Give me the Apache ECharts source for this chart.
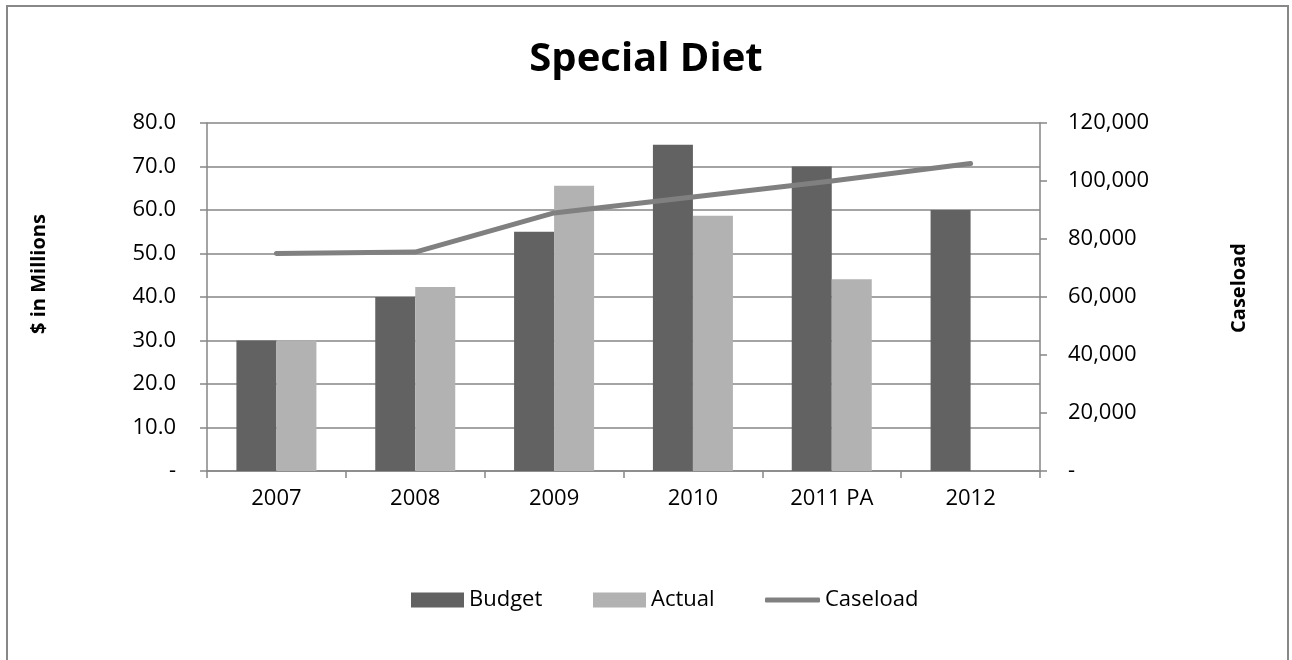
<!DOCTYPE html>
<html>
<head>
<meta charset="utf-8">
<script src="https://cdn.jsdelivr.net/npm/echarts@6/dist/echarts.min.js"></script>
<style>
html,body{margin:0;padding:0;background:#fff;}
#c{width:1292px;height:660px;}
</style>
</head>
<body>
<div id="c"></div>
<script>
const categories = ['2007', '2008', '2009', '2010', '2011 PA', '2012'];
const budget = [30, 40, 55, 75, 70, 60];
const actual = [30, 42.3, 65.6, 58.7, 44.1, null];
const caseload = [75000, 75500, 89000, 94500, 100000, 106000];
const leftTicks = {min: 0, max: 80, interval: 10};
const rightTicks = {min: 0, max: 120000, interval: 20000};

const FONT = '"Open Sans", "Noto Sans", sans-serif';
const chart = echarts.init(document.getElementById('c'), null, {renderer: 'canvas'});
const legendText = {fontFamily: FONT, fontSize: 22, color: '#000'};
chart.setOption({
  animation: false,
  backgroundColor: '#fff',
  textStyle: {fontFamily: FONT},
  title: {
    text: 'Special Diet', left: 'center', top: 35,
    textStyle: {fontFamily: FONT, fontSize: 40, fontWeight: 'bold', color: '#000'}
  },
  graphic: [{
    type: 'rect', shape: {x: 7, y: 6, width: 1281, height: 700},
    style: {fill: null, stroke: '#888', lineWidth: 2}, silent: true, z: -1
  }, {
    type: 'text', x: 39, y: 274, rotation: Math.PI / 2,
    style: {text: '$ in Millions', fontFamily: FONT, fontSize: 20, fontWeight: 'bold',
      fill: '#000', align: 'center', verticalAlign: 'middle'}
  }, {
    type: 'text', x: 1239, y: 288, rotation: Math.PI / 2,
    style: {text: 'Caseload', fontFamily: FONT, fontSize: 20, fontWeight: 'bold',
      fill: '#000', align: 'center', verticalAlign: 'middle'}
  }],
  legend: [{
    left: 406, top: 584, itemWidth: 53, itemHeight: 15, textStyle: legendText,
    data: [{name: 'Budget', icon: 'rect'}]
  }, {
    left: 588, top: 584, itemWidth: 53, itemHeight: 15, textStyle: legendText,
    data: [{name: 'Actual', icon: 'rect'}]
  }, {
    left: 760, top: 584, itemWidth: 55, itemHeight: 5, textStyle: legendText,
    data: [{name: 'Caseload', icon: 'roundRect'}]
  }],
  grid: {left: 207, right: 252, top: 123, bottom: 189},
  xAxis: {
    type: 'category', data: categories,
    axisLine: {lineStyle: {color: '#868686', width: 1.5}},
    axisTick: {show: true, length: 7, lineStyle: {color: '#868686', width: 1.5}},
    axisLabel: {fontFamily: FONT, fontSize: 22, color: '#000', margin: 17}
  },
  yAxis: [{
    type: 'value', min: leftTicks.min, max: leftTicks.max, interval: leftTicks.interval,
    axisLine: {show: true, lineStyle: {color: '#868686', width: 1.5}},
    axisTick: {show: true, length: 7, lineStyle: {color: '#868686', width: 1.5}},
    splitLine: {lineStyle: {color: '#868686', width: 1.5}},
    axisLabel: {fontFamily: FONT, fontSize: 22, color: '#000', margin: 31,
      formatter: v => v === 0 ? '-' : v.toFixed(1)}
  }, {
    type: 'value', min: rightTicks.min, max: rightTicks.max, interval: rightTicks.interval,
    position: 'right',
    axisLine: {show: true, lineStyle: {color: '#868686', width: 1.5}},
    axisTick: {show: true, length: 7, lineStyle: {color: '#868686', width: 1.5}},
    splitLine: {show: false},
    axisLabel: {fontFamily: FONT, fontSize: 22, color: '#000', margin: 28,
      formatter: v => v === 0 ? '-' : v.toLocaleString('en-US')}
  }],
  series: [{
    name: 'Budget', type: 'bar', data: budget, yAxisIndex: 0,
    barWidth: 40, barGap: '0%',
    itemStyle: {color: '#626262'}
  }, {
    name: 'Actual', type: 'bar', data: actual, yAxisIndex: 0,
    barWidth: 40, barGap: '0%',
    itemStyle: {color: '#B2B2B2'}
  }, {
    name: 'Caseload', type: 'line', data: caseload, yAxisIndex: 1,
    symbol: 'none', lineStyle: {color: '#808080', width: 5, cap: 'round', join: 'round'},
    itemStyle: {color: '#808080'}
  }]
});
</script>
</body>
</html>
